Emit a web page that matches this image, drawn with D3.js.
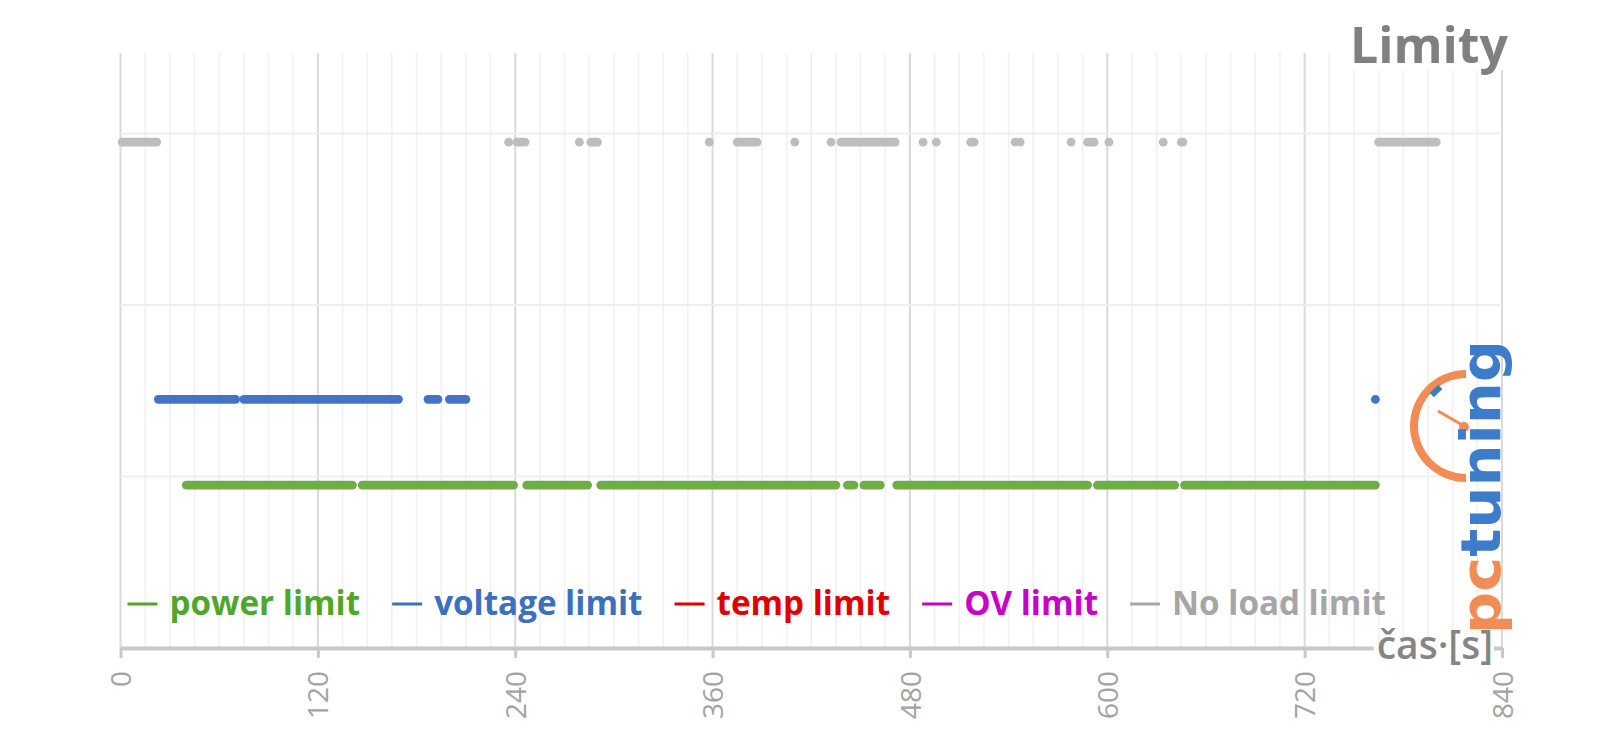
<!DOCTYPE html>
<html><head><meta charset="utf-8">
<script src="https://cdn.jsdelivr.net/npm/d3@7"></script>
<style>body{margin:0;background:#fff;overflow:hidden}</style>
</head><body><svg id="c" width="1600" height="745"></svg>
<script>
// ---- data (time in seconds) ----
const xTicks = [0, 120, 240, 360, 480, 600, 720, 840];
const yGridLevels = [1, 2, 3];
const seriesNames = ["power limit", "voltage limit", "temp limit", "OV limit", "No load limit"];
const seriesLevels = [0.95, 1.45, null, null, 2.95];
const powerRuns = [[40,141],[147,239],[247,284],[292,435],[442,446],[452,462],[472,588],[594,641],[647,763]];
const voltageRuns = [[23,70],[75,169],[187,193],[200,210],[763,763]];
const tempRuns = [];
const ovRuns = [];
const noLoadRuns = [[1,22],[236,236],[241,246],[279,279],[286,290],[358,358],[375,387],[410,410],[432,432],[438,471],[488,488],[496,496],[517,519],[544,544],[547,547],[578,578],[588,592],[601,601],[634,634],[645,646],[765,800]];

const dotColors = ["#70ad47", "#4472c4", "#e00000", "#c800c8", "#bdbdbd"];
const textColors = ["#4ea72a", "#3b6fc0", "#e00000", "#c800c8", "#a6a6a6"];

const svg = d3.select("#c");
const x = d3.scaleLinear().domain([0, 840]).range([120.5, 1502]);
const y = d3.scaleLinear().domain([0, 3.47]).range([648, 53]);
const R = 4.4;

// grid
const gridG = svg.append("g");
gridG.selectAll("line.v").data(d3.range(0, 841, 15)).join("line")
  .attr("x1", d => x(d)).attr("x2", d => x(d))
  .attr("y1", y(3.47)).attr("y2", y(0))
  .attr("stroke", d => d % 120 === 0 ? "#dadada" : "#f0f0f0")
  .attr("stroke-width", d => d % 120 === 0 ? 2 : 1.5);
gridG.selectAll("line.h").data(yGridLevels).join("line")
  .attr("x1", x(0)).attr("x2", x(840))
  .attr("y1", d => y(d)).attr("y2", d => y(d))
  .attr("stroke", "#efefef").attr("stroke-width", 2);

// runs of limit markers
const allRuns = [powerRuns, voltageRuns, tempRuns, ovRuns, noLoadRuns];
allRuns.forEach((runs, i) => {
  if (seriesLevels[i] === null) return;
  svg.append("g").selectAll("rect").data(runs).join("rect")
    .attr("x", d => x(d[0]) - R)
    .attr("y", y(seriesLevels[i]) - R)
    .attr("width", d => x(d[1]) - x(d[0]) + 2 * R)
    .attr("height", 2 * R)
    .attr("rx", R)
    .attr("fill", dotColors[i]);
});

// x axis
const axis = d3.axisBottom(x).tickValues(xTicks).tickSize(10).tickSizeOuter(0).tickFormat(d3.format("d"));
const ax = svg.append("g").attr("transform", `translate(0,${y(0)})`).call(axis);
ax.select(".domain").attr("stroke", "#c8c8c8").attr("stroke-width", 4);
ax.selectAll(".tick line").attr("stroke", "#c8c8c8").attr("stroke-width", 3);
ax.selectAll(".tick text")
  .attr("transform", "rotate(-90)")
  .attr("text-anchor", "end")
  .attr("x", -23).attr("y", 0).attr("dy", "0.36em")
  .attr("fill", "#a3a3a3")
  .style("font-family", "'Open Sans'")
  .style("font-weight", 400)
  .style("font-size", "28px");

// axis title "čas [s]"
const at = svg.append("g");
const atText = at.append("text")
  .attr("x", 1493).attr("y", 659)
  .attr("text-anchor", "end")
  .attr("fill", "#858585")
  .style("font-family", "'Open Sans'")
  .style("font-weight", 600)
  .style("font-size", "39px")
  .text("čas·[s]");
const bb = atText.node().getBBox();
at.insert("rect", "text").attr("x", bb.x - 3).attr("y", y(0) - 4).attr("width", bb.width + 4).attr("height", 8).attr("fill", "#fff");

// legend
const legend = svg.append("g");
let lx = 127.5;
seriesNames.forEach((name, i) => {
  legend.append("line").attr("x1", lx).attr("x2", lx + 30).attr("y1", 604).attr("y2", 604)
    .attr("stroke", textColors[i]).attr("stroke-width", 3);
  const t = legend.append("text").attr("x", lx + 42).attr("y", 615)
    .attr("fill", textColors[i])
    .style("font-family", "'Open Sans'").style("font-weight", 700).style("font-size", "33.2px")
    .text(name);
  lx = lx + 42 + t.node().getComputedTextLength() + 32;
});

// title
const titleG = svg.append("g");
titleG.append("rect").attr("x", 1345).attr("y", 0).attr("width", 170).attr("height", 70).attr("fill", "#fff");
titleG.append("text").attr("x", 1508).attr("y", 63).attr("text-anchor", "end")
  .attr("fill", "#808080")
  .style("font-family", "'Open Sans'").style("font-weight", 700).style("font-size", "50px")
  .text("Limity");

// logo
const logo = svg.append("g");
const cx = 1466, cy = 426;
logo.append("path")
  .attr("transform", `translate(${cx},${cy})`)
  .attr("d", d3.arc().innerRadius(48).outerRadius(56).startAngle(Math.PI).endAngle(2 * Math.PI)())
  .attr("fill", "#f28c55");
logo.append("line").attr("x1", 1438).attr("y1", 411).attr("x2", cx - 2).attr("y2", cy)
  .attr("stroke", "#f28c55").attr("stroke-width", 3);
logo.append("circle").attr("cx", cx - 2).attr("cy", cy + 1).attr("r", 5).attr("fill", "#f28c55");
logo.append("rect").attr("x", -3).attr("y", -6).attr("width", 6).attr("height", 12)
  .attr("transform", "translate(1436,391) rotate(45)").attr("fill", "#3d7cc9");
const lt = logo.append("text")
  .attr("transform", "translate(1500,634) rotate(-90)")
  .attr("textLength", 294).attr("lengthAdjust", "spacingAndGlyphs")
  .style("font-family", "'DejaVu Sans'").style("font-weight", 700).style("font-size", "56px");
lt.append("tspan").attr("fill", "#f28c55").text("pc");
lt.append("tspan").attr("fill", "#3d7cc9").text("tuning");
</script>
</body></html>
